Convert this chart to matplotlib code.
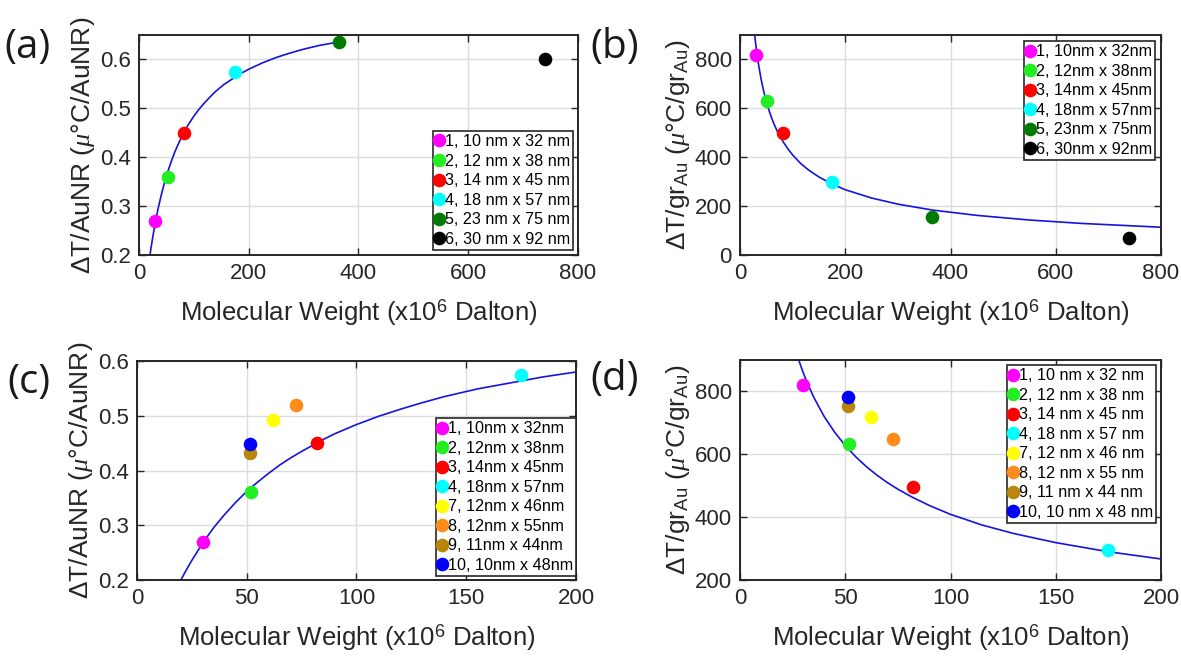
import matplotlib
matplotlib.use("Agg")
import matplotlib.pyplot as plt

plt.rcParams['font.family'] = ['Liberation Sans', 'DejaVu Sans']
plt.rcParams['mathtext.fontset'] = 'custom'
plt.rcParams['mathtext.rm'] = 'Liberation Sans'
plt.rcParams['mathtext.it'] = 'Liberation Serif:italic'
plt.rcParams['mathtext.bf'] = 'Liberation Sans:bold'

# molecular weight (x10^6 Dalton) per sample
mw_ab = [30, 52, 82, 175, 365, 740]
dt_nr_ab = [0.27, 0.36, 0.45, 0.575, 0.635, 0.60]
dt_gr_ab = [820, 632, 498, 300, 157, 70]
labels_a = ['1, 10 nm x 32 nm', '2, 12 nm x 38 nm', '3, 14 nm x 45 nm',
            '4, 18 nm x 57 nm', '5, 23 nm x 75 nm', '6, 30 nm x 92 nm']
labels_b = ['1, 10nm x 32nm', '2, 12nm x 38nm', '3, 14nm x 45nm',
            '4, 18nm x 57nm', '5, 23nm x 75nm', '6, 30nm x 92nm']
colors_ab = ['#ff00ff', '#22ee22', '#ff0000', '#00ffff', '#007a00', '#000000']

mw_cd = [30, 52, 82, 175, 62, 72.5, 51.5, 51.5]
dt_nr_cd = [0.27, 0.36, 0.45, 0.575, 0.492, 0.52, 0.432, 0.448]
dt_gr_cd = [820, 632, 497, 297, 718, 650, 755, 783]
labels_c = ['1, 10nm x 32nm', '2, 12nm x 38nm', '3, 14nm x 45nm', '4, 18nm x 57nm',
            '7, 12nm x 46nm', '8, 12nm x 55nm', '9, 11nm x 44nm', '10, 10nm x 48nm']
labels_d = ['1, 10 nm x 32 nm', '2, 12 nm x 38 nm', '3, 14 nm x 45 nm', '4, 18 nm x 57 nm',
            '7, 12 nm x 46 nm', '8, 12 nm x 55 nm', '9, 11 nm x 44 nm', '10, 10 nm x 48 nm']
colors_cd = ['#ff00ff', '#22ee22', '#ff0000', '#00ffff',
             '#ffff00', '#ff8c1a', '#b8860b', '#0000ff']

# fitted curves
fit_nr_x = [20, 22, 25, 30, 35, 40, 45, 50, 55, 60, 65, 70, 75, 85, 90, 100, 110,
            120, 130, 140, 155, 170, 185, 200, 225, 250, 275, 300, 330, 365]
fit_nr_y = [0.200, 0.215, 0.236, 0.268, 0.296, 0.320, 0.342, 0.362, 0.379, 0.395,
            0.410, 0.423, 0.435, 0.457, 0.467, 0.484, 0.499, 0.512, 0.524, 0.535,
            0.549, 0.560, 0.571, 0.580, 0.593, 0.604, 0.613, 0.621, 0.629, 0.636]
fit_gr_x = [26, 27, 28, 30, 32, 35, 40, 45, 50, 55, 60, 65, 70, 75, 82, 90, 100,
            115, 130, 150, 175, 200, 250, 300, 365, 450, 550, 650, 800]
fit_gr_y = [940, 918, 898, 860, 827, 782, 720, 670, 628, 592, 561, 534, 510, 489,
            463, 437, 409, 375, 348, 319, 290, 267, 233, 208, 184, 162, 143, 129, 113.5]

ylab_nr = 'ΔT/AuNR ($\\mu$°C/AuNR)'
ylab_gr = 'ΔT/gr$_{\\rm Au}$ ($\\mu$°C/gr$_{\\rm Au}$)'
xlab = 'Molecular Weight (x10$^6$ Dalton)'

fig = plt.figure(figsize=(11.81, 6.58), dpi=100)
ax_a = fig.add_axes([0.1177, 0.6125, 0.3717, 0.3343])
ax_b = fig.add_axes([0.6266, 0.6125, 0.3565, 0.3343])
ax_c = fig.add_axes([0.1160, 0.1185, 0.3717, 0.3328])
ax_d = fig.add_axes([0.6266, 0.1185, 0.3565, 0.3343])

line_col = '#1414e0'


def style(ax, xlim, ylim, xt, yt, ylab):
    ax.set_xlim(*xlim)
    ax.set_ylim(*ylim)
    ax.set_xticks(xt)
    ax.set_yticks(yt)
    ax.grid(True, color='#dcdcdc', linewidth=1.0)
    ax.set_axisbelow(True)
    ax.tick_params(direction='in', top=True, right=True, length=5,
                   labelsize=16, colors='#262626', width=1.0, pad=6)
    for s in ax.spines.values():
        s.set_linewidth(1.4)
        s.set_color('#262626')
    ax.set_xlabel(xlab, fontsize=18.5, color='#262626', labelpad=9)
    ax.set_ylabel(ylab, fontsize=19, color='#262626', labelpad=2)


def points(ax, xs, ys, cols, labs):
    for x, y, c, l in zip(xs, ys, cols, labs):
        ax.plot(x, y, 'o', color=c, markersize=9.8, markeredgewidth=0, label=l)


def legend(ax, loc, anchor):
    leg = ax.legend(loc=loc, bbox_to_anchor=anchor, fontsize=11.6, handlelength=0.3,
                    handletextpad=0.2, labelspacing=0.28, borderpad=0.2,
                    borderaxespad=0.0, fancybox=False, framealpha=1,
                    edgecolor='#262626')
    leg.get_frame().set_linewidth(1.2)


# (a)
ax_a.plot(fit_nr_x, fit_nr_y, color=line_col, linewidth=1.2)
points(ax_a, mw_ab, dt_nr_ab, colors_ab, labels_a)
style(ax_a, (0, 800), (0.2, 0.65), [0, 200, 400, 600, 800], [0.2, 0.3, 0.4, 0.5, 0.6], ylab_nr)
legend(ax_a, 'lower right', (0.989, 0.023))

# (b)
ax_b.plot(fit_gr_x, fit_gr_y, color=line_col, linewidth=1.2)
points(ax_b, mw_ab, dt_gr_ab, colors_ab, labels_b)
style(ax_b, (0, 800), (0, 900), [0, 200, 400, 600, 800], [0, 200, 400, 600, 800], ylab_gr)
legend(ax_b, 'upper right', (0.986, 0.973))

# (c)
ax_c.plot(fit_nr_x[:24], fit_nr_y[:24], color=line_col, linewidth=1.2)
points(ax_c, mw_cd, dt_nr_cd, colors_cd, labels_c)
style(ax_c, (0, 200), (0.2, 0.6), [0, 50, 100, 150, 200], [0.2, 0.3, 0.4, 0.5, 0.6], ylab_nr)
legend(ax_c, 'lower right', (1.0, 0.018))

# (d)
ax_d.plot(fit_gr_x[:22], fit_gr_y[:22], color=line_col, linewidth=1.2)
points(ax_d, mw_cd, dt_gr_cd, colors_cd, labels_d)
style(ax_d, (0, 200), (200, 900), [0, 50, 100, 150, 200], [200, 400, 600, 800], ylab_gr)
legend(ax_d, 'upper right', (0.988, 0.977))

for txt, x, y in [('(a)', 0.004, 0.927), ('(b)', 0.4996, 0.927),
                  ('(c)', 0.006, 0.419), ('(d)', 0.4996, 0.4225)]:
    fig.text(x, y, txt, fontsize=29, family=['Open Sans', 'DejaVu Sans'],
             color='#1a1a1a', va='center', ha='left')

fig.savefig('out.png', dpi=100, facecolor='white')
